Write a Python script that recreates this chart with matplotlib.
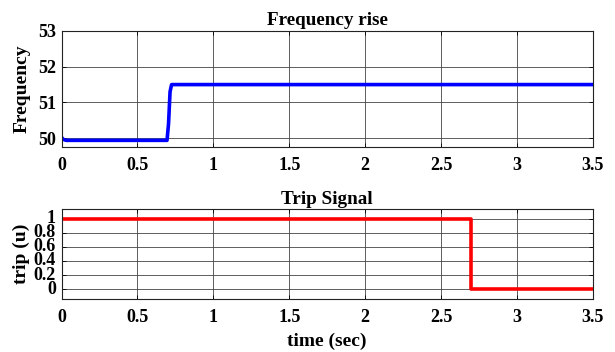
import matplotlib.pyplot as plt

# frequency response (Hz) vs time (s)
freq_time = [0.0, 0.01, 0.03, 0.06, 0.695, 0.705, 0.715, 0.725, 3.5]
freq_vals = [50.03, 49.97, 49.94, 49.94, 49.94, 50.4, 51.3, 51.5, 51.5]

# trip signal vs time (s)
trip_time = [0.0, 2.7, 2.7, 3.5]
trip_vals = [1, 1, 0, 0]

x_ticks = [0, 0.5, 1, 1.5, 2, 2.5, 3, 3.5]
x_ticklabels = ['0', '0.5', '1', '1.5', '2', '2.5', '3', '3.5']
freq_ticks = [50, 51, 52, 53]
trip_ticks = [0, 0.2, 0.4, 0.6, 0.8, 1]
trip_ticklabels = ['0', '0.2', '0.4', '0.6', '0.8', '1']

plt.rcParams['font.family'] = 'Liberation Serif'
plt.rcParams['font.weight'] = 'bold'
plt.rcParams['font.size'] = 13

fig = plt.figure(figsize=(6.15, 3.52), dpi=100)
ax1 = fig.add_axes([0.100, 0.582, 0.864, 0.330])
ax2 = fig.add_axes([0.100, 0.151, 0.864, 0.255])


def style(ax):
    ax.grid(True, color='#444444', linewidth=0.6)
    ax.tick_params(direction='in', length=3, top=True, right=True,
                   labelsize=13, width=0.6)
    ax.tick_params(axis='x', pad=7)
    ax.tick_params(axis='y', pad=4)
    for s in ax.spines.values():
        s.set_linewidth(0.8)
        s.set_color('#222222')
    ax.set_xlim(0, 3.5)
    ax.set_xticks(x_ticks)
    ax.set_xticklabels(x_ticklabels)
    for lbl in ax.get_xticklabels() + ax.get_yticklabels():
        lbl.set_fontweight('bold')


ax1.plot(freq_time, freq_vals, color='#0000ff', linewidth=2.6)
style(ax1)
ax1.set_ylim(49.75, 53)
ax1.set_yticks(freq_ticks)
ax1.set_yticklabels([str(v) for v in freq_ticks])
ax1.set_title('Frequency rise', fontsize=13.8, fontweight='bold', pad=4)
ax1.set_ylabel('Frequency', fontsize=14, fontweight='bold')
ax1.yaxis.set_label_coords(-0.058, 0.5)

ax2.plot(trip_time, trip_vals, color='#ff0000', linewidth=2.6)
style(ax2)
ax2.set_ylim(-0.14, 1.14)
ax2.set_yticks(trip_ticks)
ax2.set_yticklabels(trip_ticklabels)
ax2.set_title('Trip Signal', fontsize=13.8, fontweight='bold', pad=4)
ax2.set_ylabel('trip (u)', fontsize=14, fontweight='bold')
ax2.yaxis.set_label_coords(-0.060, 0.5)
ax2.set_xlabel('time (sec)', fontsize=14, fontweight='bold', labelpad=5)
for lbl in ax2.get_yticklabels():
    lbl.set_va('center')

fig.savefig('out.png', dpi=100)
